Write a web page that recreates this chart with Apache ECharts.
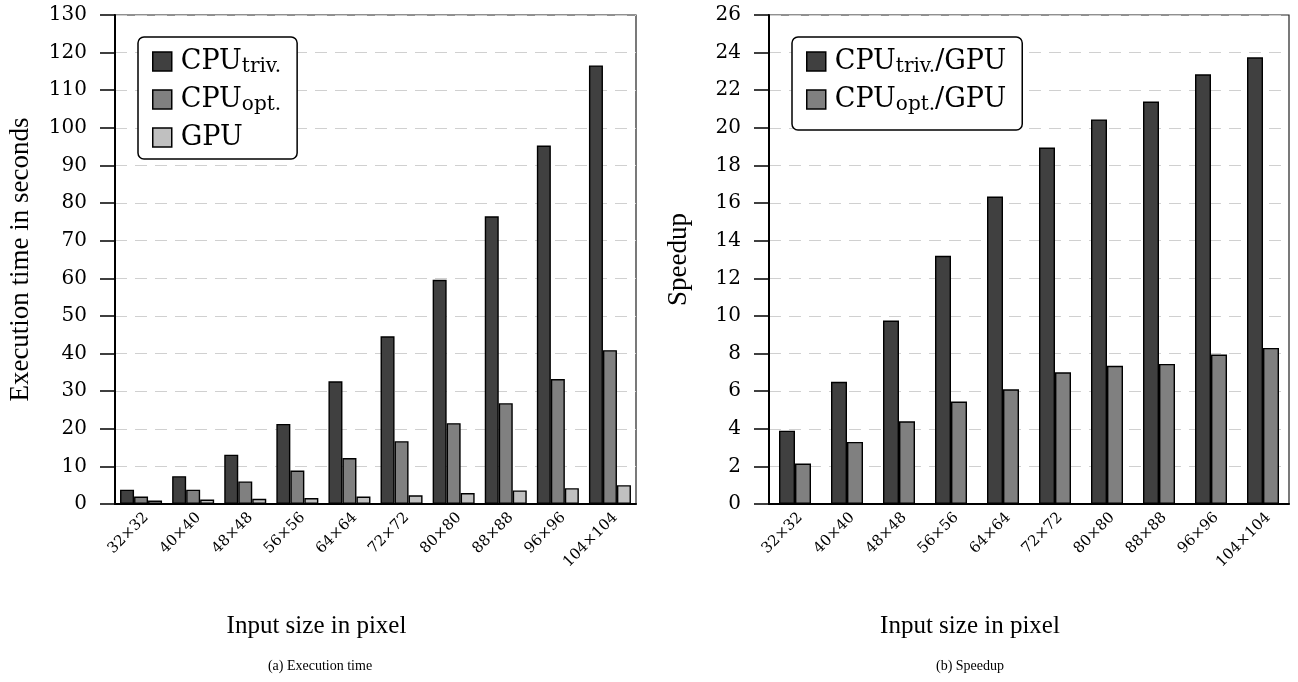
<!DOCTYPE html>
<html><head><meta charset="utf-8">
<script src="https://cdn.jsdelivr.net/npm/echarts@6/dist/echarts.min.js"></script>
<style>html,body{margin:0;padding:0;background:#fff}#c{width:1298px;height:682px}</style>
</head><body><div id="c"></div>
<script>
const categories = ['32×32','40×40','48×48','56×56','64×64','72×72','80×80','88×88','96×96','104×104'];
const cpuTriv = [3.8, 7.4, 13.1, 21.3, 32.6, 44.6, 59.6, 76.5, 95.3, 116.6];
const cpuOpt  = [2.0, 3.8, 6.0, 8.9, 12.2, 16.7, 21.5, 26.8, 33.2, 40.9];
const gpu     = [0.9, 1.2, 1.4, 1.6, 2.0, 2.3, 2.9, 3.6, 4.2, 5.0];
const speedupTriv = [3.9, 6.5, 9.75, 13.2, 16.35, 18.95, 20.45, 21.4, 22.85, 23.75];
const speedupOpt  = [2.15, 3.3, 4.4, 5.45, 6.1, 7.0, 7.35, 7.45, 7.95, 8.3];

const F = '"DejaVu Serif", serif';
const T = '"Liberation Serif", serif';
const C1 = '#404040', C2 = '#808080', C3 = '#c0c0c0';

function legendFmt(name) {
  const m = name.match(/^CPU_(triv\.|opt\.)(.*)$/);
  if (m) return '{m0|CPU}{s|' + m[1] + '}' + (m[2] ? '{m|' + m[2] + '}' : '');
  return '{m0|' + name + '}';
}
function legend(left, top, names, padBottom) {
  return {
    data: names, left: left, top: top, orient: 'vertical',
    padding: [11, 16, padBottom, 14], itemGap: 9, itemWidth: 19, itemHeight: 19,
    icon: 'rect', selectedMode: false,
    backgroundColor: '#fff', borderColor: '#000', borderWidth: 1.5, borderRadius: 6,
    itemStyle: { borderColor: '#000', borderWidth: 1.5 },
    formatter: legendFmt,
    textStyle: {
      fontFamily: F, fontSize: 27, color: '#000',
      rich: {
        m0: { fontFamily: F, fontSize: 27, color: '#000', padding: [0, 0, 0, 4], lineHeight: 31 },
        m:  { fontFamily: F, fontSize: 27, color: '#000', lineHeight: 31 },
        s:  { fontFamily: F, fontSize: 20, color: '#000', verticalAlign: 'bottom', lineHeight: 20 }
      }
    }
  };
}
function xAxis(idx) {
  return {
    type: 'category', gridIndex: idx, data: categories,
    axisLine: { lineStyle: { color: '#000', width: 2 } },
    axisTick: { show: false },
    axisLabel: { rotate: 45, fontFamily: F, fontSize: 15, color: '#000', margin: 6, align: 'right', verticalAlign: 'top' },
    name: 'Input size in pixel', nameLocation: 'middle', nameGap: 110,
    nameTextStyle: { fontFamily: T, fontSize: 25, color: '#000', padding: [0, 118, 0, 0] }
  };
}
function yAxis(idx, max, interval, name, gap) {
  return {
    type: 'value', gridIndex: idx, min: 0, max: max, interval: interval,
    axisLine: { show: true, lineStyle: { color: '#000', width: 2 } },
    axisTick: { show: true, length: 15, lineStyle: { color: '#000', width: 1.5 } },
    axisLabel: { fontFamily: F, fontSize: 20, color: '#000', margin: 28 },
    splitLine: { show: true, lineStyle: { color: '#d0d0d0', width: 1.2, type: [12, 8] } },
    name: name, nameLocation: 'middle', nameGap: gap,
    nameTextStyle: { fontFamily: T, fontSize: 27, color: '#000' }
  };
}
function bar(name, data, color, idx, w) {
  return {
    type: 'bar', name: name, data: data, xAxisIndex: idx, yAxisIndex: idx,
    barWidth: w, barGap: '0%',
    itemStyle: { color: color, borderColor: '#000', borderWidth: 1.4 }
  };
}

const chart = echarts.init(document.getElementById('c'), null, { renderer: 'canvas' });
chart.setOption({
  backgroundColor: '#fff',
  animation: false,
  grid: [
    { left: 115, right: 662, top: 15, bottom: 178, show: true, borderColor: '#222', borderWidth: 1.2, backgroundColor: 'transparent' },
    { left: 769, right: 9, top: 15, bottom: 178, show: true, borderColor: '#222', borderWidth: 1.2, backgroundColor: 'transparent' }
  ],
  legend: [
    legend(138, 37, ['CPU_triv.', 'CPU_opt.', 'GPU'], 8),
    legend(792, 37, ['CPU_triv./GPU', 'CPU_opt./GPU'], 15)
  ],
  xAxis: [xAxis(0), xAxis(1)],
  yAxis: [
    yAxis(0, 130, 10, 'Execution time in seconds', 81),
    yAxis(1, 26, 2, 'Speedup', 77)
  ],
  series: [
    bar('CPU_triv.', cpuTriv, C1, 0, 14),
    bar('CPU_opt.', cpuOpt, C2, 0, 14),
    bar('GPU', gpu, C3, 0, 14),
    bar('CPU_triv./GPU', speedupTriv, C1, 1, 16),
    bar('CPU_opt./GPU', speedupOpt, C2, 1, 16)
  ],
  graphic: [
    { type: 'text', x: 320, y: 666, style: { text: '(a) Execution time', fontFamily: T, fontSize: 14, fill: '#000', align: 'center', verticalAlign: 'middle' } },
    { type: 'text', x: 970, y: 666, style: { text: '(b) Speedup', fontFamily: T, fontSize: 14, fill: '#000', align: 'center', verticalAlign: 'middle' } }
  ]
});
</script>
</body></html>
